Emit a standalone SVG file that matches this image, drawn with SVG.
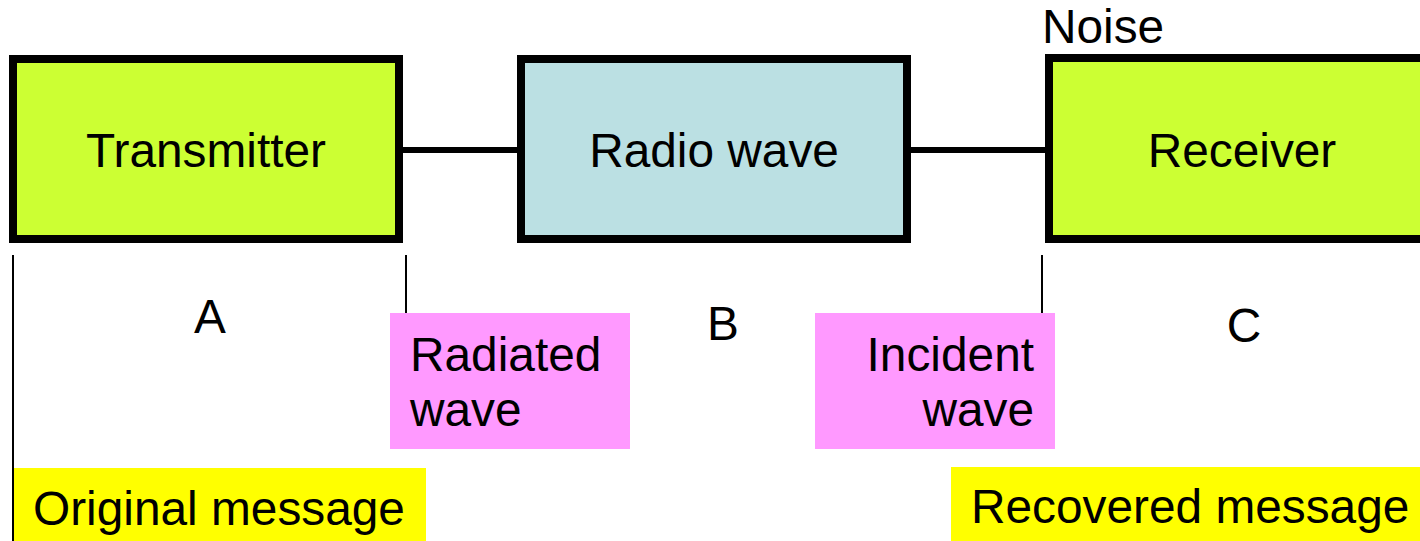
<svg xmlns="http://www.w3.org/2000/svg" width="1420" height="541" viewBox="0 0 1420 541">
  <style>
    .box { stroke: #000; stroke-width: 8; }
    .green { fill: #CCFF33; }
    .blue { fill: #BBE0E3; }
    .pink { fill: #FF99FF; }
    .yellow { fill: #FFFF00; }
    .lbl { font-family: "Liberation Sans", Arial, sans-serif; font-size: 47.8px; fill: #000; }
    .mid { text-anchor: middle; }
    .end { text-anchor: end; }
    .link { stroke: #000; stroke-width: 6; fill: none; }
    .tick { stroke: #000; stroke-width: 2; fill: none; }
  </style>
  <rect width="1420" height="541" fill="#fff"/>

  <!-- connectors between the blocks -->
  <g id="connectors">
    <line class="link" x1="403" y1="150" x2="517" y2="150"/>
    <line class="link" x1="911" y1="150" x2="1045" y2="150"/>
  </g>

  <g id="transmitter">
    <rect class="box green" x="13" y="59" width="386" height="180"/>
    <text class="lbl mid" x="206" y="167">Transmitter</text>
  </g>

  <g id="radio-wave">
    <rect class="box blue" x="521" y="59" width="386" height="180"/>
    <text class="lbl mid" x="714" y="167">Radio wave</text>
  </g>

  <g id="receiver">
    <rect class="box green" x="1049" y="58" width="400" height="181"/>
    <text class="lbl mid" x="1242" y="167">Receiver</text>
  </g>

  <g id="noise">
    <text class="lbl" x="1042" y="43">Noise</text>
  </g>

  <!-- section markers -->
  <g id="markers">
    <line class="tick" x1="13" y1="255" x2="13" y2="541"/>
    <line class="tick" x1="406" y1="255" x2="406" y2="313"/>
    <line class="tick" x1="1042" y1="255" x2="1042" y2="313"/>
  </g>

  <g id="section-a"><text class="lbl mid" x="210" y="333">A</text></g>
  <g id="section-b"><text class="lbl mid" x="723" y="340">B</text></g>
  <g id="section-c"><text class="lbl mid" x="1244" y="342">C</text></g>

  <g id="radiated-wave">
    <rect class="pink" x="390" y="313" width="240" height="136"/>
    <text class="lbl" x="410" y="371">Radiated</text>
    <text class="lbl" x="410" y="426">wave</text>
  </g>

  <g id="incident-wave">
    <rect class="pink" x="815" y="313" width="240" height="136"/>
    <text class="lbl end" x="1034" y="371">Incident</text>
    <text class="lbl end" x="1034" y="426">wave</text>
  </g>

  <g id="original-message">
    <rect class="yellow" x="14" y="468" width="412" height="73"/>
    <text class="lbl" x="33" y="525">Original message</text>
  </g>

  <g id="recovered-message">
    <rect class="yellow" x="951" y="467" width="469" height="74"/>
    <text class="lbl" x="971" y="523">Recovered message</text>
  </g>
</svg>
